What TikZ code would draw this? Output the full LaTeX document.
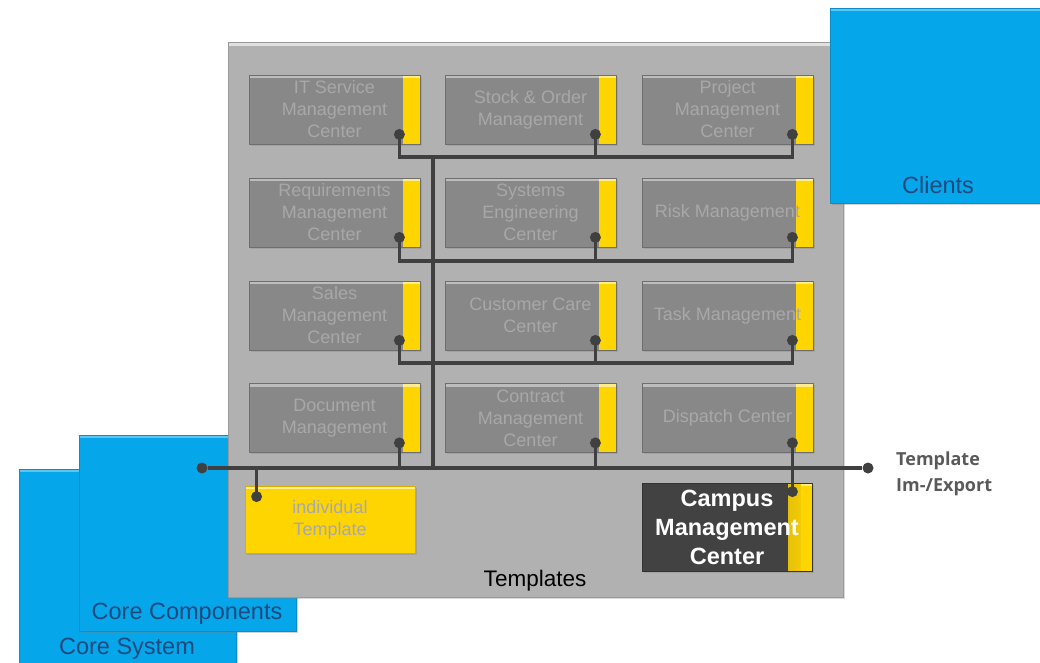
\documentclass[tikz,border=0pt]{standalone}
\usepackage{fontspec}
\setmainfont{Liberation Sans}
\newfontfamily\osans{Open Sans}
\usetikzlibrary{shadows}
\definecolor{panel}{HTML}{B1B1B1}
\definecolor{paneledge}{HTML}{9A9A9A}
\definecolor{modfill}{HTML}{888888}
\definecolor{modedge}{HTML}{6E6E6E}
\definecolor{modtext}{HTML}{A8A8A8}
\definecolor{ylw}{HTML}{FFD500}
\definecolor{ylwedge}{HTML}{D9AE00}
\definecolor{cblue}{HTML}{05A6EA}
\definecolor{cblueedge}{HTML}{0C8CC4}
\definecolor{bluetext}{HTML}{1E4A80}
\definecolor{wire}{HTML}{404040}
\definecolor{darkbox}{HTML}{424242}
\definecolor{exptext}{HTML}{595959}
\begin{document}
\begin{tikzpicture}[x=1pt,y=-1pt,
  bluebox/.style={rectangle, fill=cblue, draw=cblueedge, line width=0.8pt, inner sep=0pt,
    drop shadow={opacity=0.35, shadow xshift=2pt, shadow yshift=-2pt},
    path picture={\fill[white!35!cblue] (path picture bounding box.north west) rectangle ([yshift=-3pt]path picture bounding box.north east);}},
  bluelabel/.style={text=bluetext, font=\fontsize{23.5}{26}\selectfont, inner sep=0pt},
  module/.style={rectangle, minimum width=171pt, minimum height=69pt, inner sep=0pt,
    align=center, fill=modfill, draw=modedge, line width=0.8pt, text=modtext,
    font=\fontsize{18}{22}\selectfont,
    drop shadow={opacity=0.3, shadow xshift=1.5pt, shadow yshift=-1.5pt},
    path picture={
      \fill[ylw] ([xshift=-17pt]path picture bounding box.north east) rectangle (path picture bounding box.south east);
      \fill[white!55!ylw] ([xshift=-17pt]path picture bounding box.north east) rectangle ([yshift=-3pt]path picture bounding box.north east);
      \fill[white!45!modfill] (path picture bounding box.north west) rectangle ([xshift=-17pt,yshift=-3pt]path picture bounding box.north east);
      \draw[ylwedge, line width=1pt] ([xshift=-17pt]path picture bounding box.south east) -- (path picture bounding box.south east);
    }},
  wirestyle/.style={draw=wire, line width=3.5pt, line cap=butt},
  dot/.style={circle, fill=wire, inner sep=0pt, minimum size=11pt}
]
\useasboundingbox (0,0) rectangle (1040,662);

% blue layers behind
\node[bluebox, minimum width=217pt, minimum height=231pt] (coresys) at (127.5,584.5) {};
\node[bluelabel] (coresyslbl) at (127,649) {Core System};
\node[bluebox, minimum width=217pt, minimum height=196pt] (corecomp) at (187.5,533) {};
\node[bluelabel] (corecomplbl) at (187,614) {Core Components};

% templates panel
\node[rectangle, fill=panel, draw=paneledge, line width=1pt, minimum width=615pt, minimum height=555pt,
  drop shadow={opacity=0.3, shadow xshift=2pt, shadow yshift=-2pt},
  path picture={\fill[white!60!panel] (path picture bounding box.north west) rectangle ([yshift=-4pt]path picture bounding box.north east);}]
  (templates) at (535.5,319.5) {};
\node[text=black, font=\fontsize{22.5}{26}\selectfont, inner sep=0pt] (templateslbl) at (535,581) {Templates};

% clients
\node[bluebox, minimum width=215pt, minimum height=195pt] (clients) at (937.5,105.5) {};
\node[bluelabel] (clientslbl) at (938,185) {Clients};

% modules
\node[module] (m11) at (334.5,109.5) {IT Service\\Management\\Center};
\node[module] (m12) at (530.5,109.5) {Stock \& Order\\Management};
\node[module] (m13) at (727.5,109.5) {Project\\Management\\Center};
\node[module] (m21) at (334.5,212.5) {Requirements\\Management\\Center};
\node[module] (m22) at (530.5,212.5) {Systems\\Engineering\\Center};
\node[module] (m23) at (727.5,212.5) {Risk Management};
\node[module] (m31) at (334.5,315.5) {Sales\\Management\\Center};
\node[module] (m32) at (530.5,315.5) {Customer Care\\Center};
\node[module] (m33) at (727.5,315.5) {Task Management};
\node[module] (m41) at (334.5,418) {Document\\Management};
\node[module] (m42) at (530.5,418) {Contract\\Management\\Center};
\node[module] (m43) at (727.5,418) {Dispatch Center};

% individual template
\node[rectangle, minimum width=170pt, minimum height=67pt, inner sep=0pt, align=center,
  fill=ylw, draw=ylwedge, line width=0.8pt, text=modtext, font=\fontsize{18}{22}\selectfont,
  drop shadow={opacity=0.3, shadow xshift=1.5pt, shadow yshift=-1.5pt},
  path picture={\fill[white!55!ylw] (path picture bounding box.north west) rectangle ([yshift=-3pt]path picture bounding box.north east);}]
  (indiv) at (330,519.5) {individual\\Template};

% campus management center
\node[rectangle, minimum width=170pt, minimum height=88pt, inner sep=0pt, align=center,
  fill=darkbox, draw=black!80, line width=0.8pt, text=white, font=\bfseries\fontsize{23.5}{29}\selectfont,
  drop shadow={opacity=0.3, shadow xshift=1.5pt, shadow yshift=-1.5pt},
  path picture={
    \shade[left color=darkbox, right color=ylw] ([xshift=-24pt]path picture bounding box.north east) rectangle ([xshift=-11pt]path picture bounding box.south east);
    \fill[ylw] ([xshift=-11.5pt]path picture bounding box.north east) rectangle (path picture bounding box.south east);
    \fill[white!55!ylw] ([xshift=-11.5pt]path picture bounding box.north east) rectangle ([yshift=-3pt]path picture bounding box.north east);
  }]
  (campus) at (727,527) {Campus\\Management\\Center};

% connection points
\foreach \r in {1,2,3,4}{
  \foreach \c in {1,2,3}{
    \coordinate (d\r\c) at ([xshift=-21pt,yshift=10pt]m\r\c.south east);
  }
}
\coordinate (b1) at (0,157);
\coordinate (b2) at (0,261);
\coordinate (b3) at (0,363);
\coordinate (b4) at (0,468);
\coordinate (trunktop) at (433,157);
\coordinate (trunkbot) at (433,468);
\node[dot] (busL) at (202,468) {};
\node[dot] (busR) at (868,468) {};
\coordinate (dindiv) at ([xshift=12pt,yshift=-11pt]indiv.north west);
\coordinate (dcampus) at ([xshift=-20pt,yshift=-9pt]campus.north east);

% wires
\foreach \r in {1,2,3}{
  \draw[wirestyle] (d\r1) -- (d\r1 |- b\r) -- (d\r3 |- b\r) -- (d\r3);
  \draw[wirestyle] (d\r2) -- (d\r2 |- b\r);
}
\draw[wirestyle] (d41) -- (d41 |- b4);
\draw[wirestyle] (d42) -- (d42 |- b4);
\draw[wirestyle] (trunktop) -- (trunkbot);
\draw[wirestyle] (busL) -- (busR);
\draw[wirestyle] (d43) -- (dcampus);
\draw[wirestyle] (dindiv |- b4) -- (dindiv);

% dots
\foreach \r in {1,2,3,4}{
  \foreach \c in {1,2,3}{
    \fill[wire] (d\r\c) circle (5.5pt);
  }
}
\fill[wire] (dindiv) circle (5.5pt);
\fill[wire] (dcampus) circle (5.5pt);

% export label
\node[anchor=west, align=left, inner sep=0pt, text=exptext, font=\osans\bfseries\fontsize{18}{26}\selectfont]
  (exportlbl) at (896,474) {Template\\Im-/Export};
\end{tikzpicture}
\end{document}
